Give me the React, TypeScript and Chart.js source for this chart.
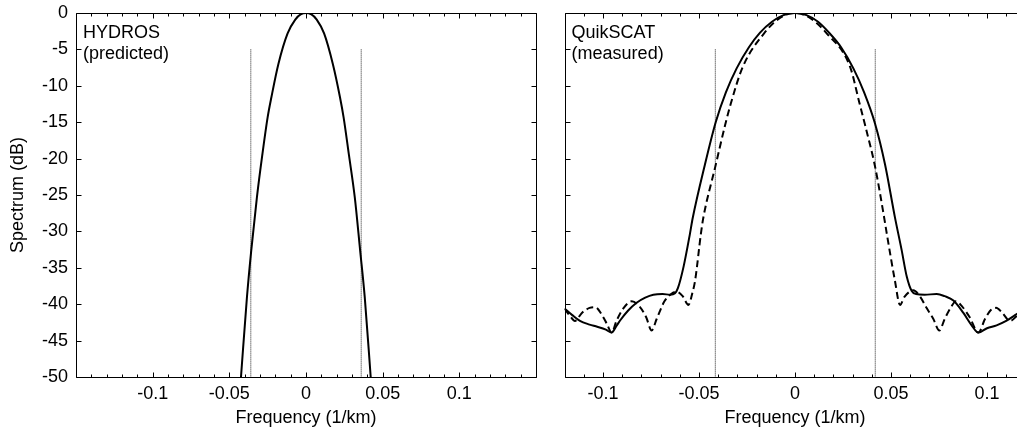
import React, { useEffect, useRef } from 'react';
import { Chart, registerables } from 'chart.js';

Chart.register(...registerables);

const FONT_FAMILY = '"Liberation Sans", Arial, Helvetica, sans-serif';

// ---- axes / text ----
const Y_TICKS = [0, -5, -10, -15, -20, -25, -30, -35, -40, -45, -50];
const X_LABEL_TICKS = [-0.1, -0.05, 0, 0.05, 0.1];
const X_MINOR_STEP = 0.01;
const X_MAJOR_EVERY = 5;
const LEFT_X_RANGE = [-0.15, 0.15];
const RIGHT_X_RANGE = [-0.12, 0.12];
const Y_RANGE = [-50, 0];
const LEFT_PANEL_TEXT = ['HYDROS', '(predicted)'];
const RIGHT_PANEL_TEXT = ['QuikSCAT', '(measured)'];
const X_TITLE = 'Frequency (1/km)';
const Y_TITLE = 'Spectrum (dB)';

// ---- HYDROS (predicted) ----
const HYDROS_FREQ = [-0.0424, -0.0385, -0.0357, -0.032, -0.0285, -0.025, -0.0225, -0.018, -0.012, -0.007, -0.0035, 0, 0.0035, 0.007, 0.0118, 0.0175, 0.0221, 0.0245, 0.028, 0.0318, 0.0353, 0.0383, 0.0422];
const HYDROS_DB = [-50, -39, -32.6, -25.3, -19.5, -14.3, -11.5, -7.0, -2.8, -0.9, -0.2, 0, -0.2, -0.9, -2.8, -7.0, -11.5, -14.3, -19.5, -25.3, -32.6, -39, -50];
const HYDROS_CUTOFF_FREQ = [-0.036, 0.036];

// ---- QuikSCAT (measured) solid ----
const QS_SOLID_FREQ = [-0.12, -0.116, -0.112, -0.107, -0.103, -0.0985, -0.0955, -0.093, -0.091, -0.087, -0.0825, -0.078, -0.0738, -0.069, -0.065, -0.0625, -0.061, -0.058, -0.0547, -0.0533, -0.0469, -0.0413, -0.036, -0.0304, -0.024, -0.0182, -0.012, -0.006, 0, 0.006, 0.012, 0.0174, 0.024, 0.0304, 0.036, 0.0417, 0.0469, 0.052, 0.0555, 0.0582, 0.0608, 0.063, 0.0675, 0.0738, 0.078, 0.0825, 0.0877, 0.092, 0.0955, 0.1, 0.105, 0.11, 0.1146, 0.12];
const QS_SOLID_DB = [-40.6, -41.5, -42.3, -42.8, -43.1, -43.5, -43.9, -43.0, -42.2, -40.9, -39.8, -39.1, -38.7, -38.6, -38.7, -38.5, -37.8, -34.8, -30.3, -28.2, -20.8, -15.0, -10.9, -7.6, -4.7, -2.7, -1.2, -0.3, 0, -0.3, -1.2, -2.6, -4.7, -7.6, -10.9, -15.2, -20.8, -28.0, -32.5, -36.2, -38.2, -38.6, -38.7, -38.6, -38.9, -39.5, -41.2, -42.9, -43.9, -43.3, -42.9, -42.3, -41.5, -40.6];

// ---- QuikSCAT (measured) dashed ----
const QS_DASH_FREQ = [-0.12, -0.1175, -0.1146, -0.111, -0.107, -0.104, -0.1005, -0.098, -0.0955, -0.093, -0.0895, -0.085, -0.081, -0.0775, -0.0747, -0.072, -0.068, -0.0645, -0.0617, -0.0585, -0.0555, -0.0535, -0.052, -0.049, -0.0478, -0.0415, -0.0364, -0.0335, -0.0272, -0.0161, -0.008, 0, 0.008, 0.0165, 0.0287, 0.0335, 0.0365, 0.0417, 0.0465, 0.0478, 0.052, 0.0547, 0.057, 0.0616, 0.065, 0.0685, 0.072, 0.0752, 0.078, 0.0815, 0.0838, 0.087, 0.091, 0.0955, 0.099, 0.102, 0.1047, 0.108, 0.1119, 0.116, 0.12];
const QS_DASH_DB = [-40.6, -41.5, -42.3, -41.2, -40.5, -40.4, -41.5, -42.7, -43.9, -42.3, -40.6, -39.6, -40.3, -41.8, -43.6, -42.0, -39.6, -38.6, -38.3, -38.9, -40.1, -38.5, -36.7, -30.3, -28.2, -21.1, -15.4, -12.5, -7.4, -2.8, -0.7, 0, -0.7, -2.8, -7.4, -12.3, -15.4, -21.1, -28.2, -30.3, -36.7, -40.1, -39.0, -38.1, -38.9, -40.5, -42.0, -43.6, -42.0, -40.3, -39.6, -40.3, -41.8, -43.9, -42.0, -40.8, -40.5, -41.2, -42.3, -41.5, -40.6];
const QS_CUTOFF_FREQ = [-0.0415, 0.0418];

const CUTOFF_DB = [-5, -50];

const toPoints = (xs: number[], ys: number[]) => xs.map((x, i) => ({ x, y: ys[i] }));

function cutoffDatasets(freqs: number[]) {
  return freqs.map((f) => ({
    data: CUTOFF_DB.map((d) => ({ x: f, y: d })),
    borderColor: '#222',
    borderWidth: 1,
    borderDash: [1, 1],
    tension: 0,
  }));
}

function makeFramePlugin(lines: string[]) {
  return {
    id: 'frameTicks',
    afterDraw(chart: any) {
      const { ctx, chartArea } = chart;
      const { left, right, top, bottom } = chartArea;
      const xs = chart.scales.x;
      const ys = chart.scales.y;
      ctx.save();
      ctx.strokeStyle = '#000';
      ctx.lineWidth = 1;
      ctx.beginPath();
      const L = Math.round(left) + 0.5;
      const R = Math.round(right) + 0.5;
      const T = Math.round(top) + 0.5;
      const B = Math.round(bottom) + 0.5;
      ctx.moveTo(L, T);
      ctx.lineTo(R, T);
      ctx.lineTo(R, B);
      ctx.lineTo(L, B);
      ctx.closePath();
      const iMin = Math.ceil(xs.min / X_MINOR_STEP - 1e-6);
      const iMax = Math.floor(xs.max / X_MINOR_STEP + 1e-6);
      for (let i = iMin; i <= iMax; i++) {
        const px = Math.round(xs.getPixelForValue(i * X_MINOR_STEP)) + 0.5;
        const len = i % X_MAJOR_EVERY === 0 ? 5 : 3;
        ctx.moveTo(px, B);
        ctx.lineTo(px, B - len);
        ctx.moveTo(px, T);
        ctx.lineTo(px, T + len);
      }
      for (const v of Y_TICKS) {
        const py = Math.round(ys.getPixelForValue(v)) + 0.5;
        ctx.moveTo(L, py);
        ctx.lineTo(L + 5, py);
        ctx.moveTo(R, py);
        ctx.lineTo(R - 5, py);
      }
      ctx.stroke();
      ctx.fillStyle = '#000';
      ctx.font = `18px ${FONT_FAMILY}`;
      ctx.textBaseline = 'alphabetic';
      ctx.textAlign = 'left';
      lines.forEach((t, k) => ctx.fillText(t, left + 7, top + 25 + k * 21));
      ctx.restore();
    },
  };
}

function buildConfig(opts: {
  xRange: number[];
  datasets: any[];
  showY: boolean;
  yWidth: number;
  padRight: number;
  text: string[];
}) {
  const font = { family: FONT_FAMILY, size: 18 };
  return {
    type: 'line' as const,
    data: { datasets: opts.datasets },
    options: {
      animation: false,
      responsive: false,
      maintainAspectRatio: false,
      layout: { padding: { top: 13, right: opts.padRight, left: 0, bottom: 0 } },
      plugins: { legend: { display: false }, tooltip: { enabled: false } },
      elements: { point: { radius: 0 } },
      scales: {
        x: {
          type: 'linear',
          min: opts.xRange[0],
          max: opts.xRange[1],
          grid: { display: false, drawTicks: false },
          border: { display: false },
          afterBuildTicks: (s: any) => {
            s.ticks = X_LABEL_TICKS.map((v) => ({ value: v }));
          },
          afterFit: (s: any) => {
            s.height = 55;
            s.paddingLeft = 0;
            s.paddingRight = 0;
          },
          ticks: {
            autoSkip: false,
            maxRotation: 0,
            color: '#000',
            font,
            padding: 6,
            callback: (v: any) => String(v),
          },
          title: { display: true, text: X_TITLE, color: '#000', font, padding: { top: 0, bottom: 3 } },
        },
        y: {
          type: 'linear',
          min: Y_RANGE[0],
          max: Y_RANGE[1],
          grid: { display: false, drawTicks: false },
          border: { display: false },
          afterBuildTicks: (s: any) => {
            s.ticks = Y_TICKS.map((v) => ({ value: v }));
          },
          afterFit: (s: any) => {
            s.width = opts.yWidth;
            s.paddingTop = 0;
            s.paddingBottom = 0;
          },
          ticks: {
            display: opts.showY,
            autoSkip: false,
            color: '#000',
            font,
            padding: 8,
            callback: (v: any) => String(v),
          },
          title: { display: opts.showY, text: Y_TITLE, color: '#000', font, padding: { top: 7, bottom: 0 } },
        },
      },
    },
    plugins: [makeFramePlugin(opts.text)],
  };
}

export default function App() {
  const leftRef = useRef<HTMLCanvasElement | null>(null);
  const rightRef = useRef<HTMLCanvasElement | null>(null);

  useEffect(() => {
    const left = new Chart(
      leftRef.current as HTMLCanvasElement,
      buildConfig({
        xRange: LEFT_X_RANGE,
        showY: true,
        yWidth: 76,
        padRight: 9,
        text: LEFT_PANEL_TEXT,
        datasets: [
          {
            data: toPoints(HYDROS_FREQ, HYDROS_DB),
            borderColor: '#000',
            borderWidth: 2,
            cubicInterpolationMode: 'monotone',
          },
          ...cutoffDatasets(HYDROS_CUTOFF_FREQ),
        ],
      }) as any
    );
    const right = new Chart(
      rightRef.current as HTMLCanvasElement,
      buildConfig({
        xRange: RIGHT_X_RANGE,
        showY: false,
        yWidth: 19.6,
        padRight: 9.6,
        text: RIGHT_PANEL_TEXT,
        datasets: [
          {
            data: toPoints(QS_SOLID_FREQ, QS_SOLID_DB),
            borderColor: '#000',
            borderWidth: 2,
            cubicInterpolationMode: 'monotone',
          },
          {
            data: toPoints(QS_DASH_FREQ, QS_DASH_DB),
            borderColor: '#000',
            borderWidth: 2,
            borderDash: [7, 4],
            cubicInterpolationMode: 'monotone',
          },
          ...cutoffDatasets(QS_CUTOFF_FREQ),
        ],
      }) as any
    );
    return () => {
      left.destroy();
      right.destroy();
    };
  }, []);

  return (
    <div
      style={{
        position: 'fixed',
        left: 0,
        top: 0,
        width: 1017,
        height: 432,
        overflow: 'hidden',
        background: '#fff',
      }}
    >
      <canvas
        ref={leftRef}
        width={545}
        height={432}
        style={{ position: 'absolute', left: 0, top: 0, width: 545, height: 432 }}
      />
      <canvas
        ref={rightRef}
        width={490}
        height={432}
        style={{ position: 'absolute', left: 545, top: 0, width: 490, height: 432 }}
      />
    </div>
  );
}
